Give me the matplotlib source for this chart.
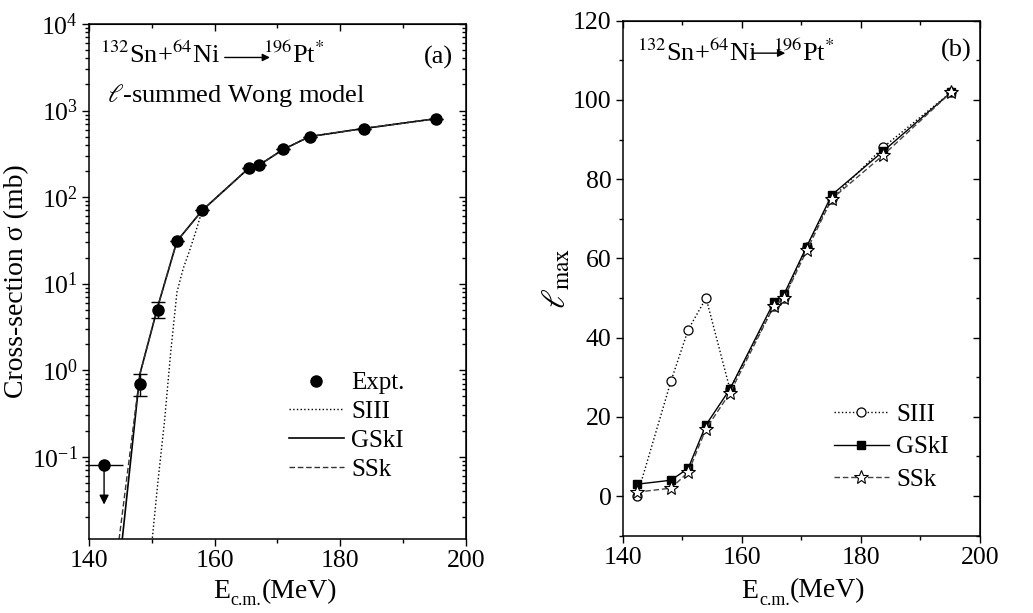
import numpy as np
import matplotlib
matplotlib.use('Agg')
import matplotlib.pyplot as plt
from matplotlib.lines import Line2D
from matplotlib.ticker import MultipleLocator, LogLocator, NullFormatter

plt.rcParams['font.family'] = ['Liberation Serif', 'DejaVu Serif']
plt.rcParams['mathtext.fontset'] = 'stix'

# energies (MeV)
E = [142.4, 148.1, 151.0, 154.0, 158.0, 165.4, 167.1, 170.9, 175.1, 183.7, 195.2]

# (a) cross-sections (mb)
E_expt = [148.1, 151.0, 154.0, 158.0, 165.4, 167.1, 170.9, 175.1, 183.7, 195.2]
sig_expt = [0.70, 5.0, 31, 70, 215, 235, 355, 500, 620, 805]
err_lo = [0.20, 1.0, 0, 0, 0, 0, 0, 0, 0, 0]
err_hi = [0.20, 1.2, 0, 0, 0, 0, 0, 0, 0, 0]
E_lim, sig_lim, sig_lim_arrow = 142.4, 0.08, 0.028

sig_gski = [1.2e-4, 0.9, 5.6, 31, 70, 215, 235, 355, 500, 620, 805]
sig_ssk = [4.7e-4, 0.9, 5.6, 31, 70, 215, 235, 355, 500, 620, 805]
E_siii = [149, 150, 151, 152, 153, 154, 155, 156, 157, 158.0, 165.4, 167.1, 170.9, 175.1, 183.7, 195.2]
sig_siii = [0.002, 0.010, 0.054, 0.25, 1.6, 8, 15, 24, 40, 70, 215, 235, 355, 500, 620, 805]

# (b) l_max
l_siii = [0, 29, 42, 50, 27, 48, 50, 63, 75, 88, 102]
l_gski = [3, 4, 7, 18, 27, 49, 51, 63, 76, 87, 102]
l_ssk = [1, 2, 6, 17, 26, 48, 50, 62, 75, 86, 102]

fs = 19
fig = plt.figure(figsize=(10.33, 6.13), dpi=100)


def ecm_label(ax, x0, y0):
    # E_c.m.(MeV) built from pieces so "c.m." keeps tight spacing
    t_e = ax.text(x0, y0, 'E', transform=ax.transAxes, fontsize=20,
                  ha='left', va='baseline')
    t_s = ax.annotate('c.m.', xy=(1.0, 0.0), xycoords=t_e, xytext=(0.5, 2),
                      textcoords='offset points', fontsize=13, ha='left', va='center')
    ax.annotate('(MeV)', xy=(1.0, 0.0), xycoords=(t_s, t_e), fontsize=20,
                ha='left', va='bottom')


#---------------- panel (a)
ax1 = fig.add_axes([89/1033, 74/613, 377/1033, 515/613])
ax1.set_yscale('log')
l_s, = ax1.plot(E_siii, sig_siii, ls=':', color='k', lw=1.0)
l_g, = ax1.plot(E, sig_gski, ls='-', color='k', lw=1.2)
l_k, = ax1.plot(E, sig_ssk, ls='--', color='#333333', lw=1.0, dashes=(4, 2))
ax1.errorbar(E_expt, sig_expt, yerr=[err_lo, err_hi], fmt='o', color='k', ms=8,
             capsize=5, elinewidth=1, capthick=1)
ax1.errorbar([E_lim], [sig_lim], xerr=3.0, fmt='o', color='k', ms=8, elinewidth=1, capsize=0)
ax1.annotate('', xy=(E_lim, sig_lim_arrow), xytext=(E_lim, sig_lim),
             arrowprops=dict(arrowstyle='-|>', color='k', lw=1, mutation_scale=14,
                             shrinkA=0, shrinkB=0))
ax1.set_xlim(140, 200)
ax1.set_ylim(0.0112, 1e4)
ax1.xaxis.set_major_locator(MultipleLocator(20))
ax1.xaxis.set_minor_locator(MultipleLocator(10))
ax1.yaxis.set_major_locator(LogLocator(base=10, numticks=10))
ax1.yaxis.set_minor_locator(LogLocator(base=10, subs=np.arange(2, 10), numticks=20))
ax1.yaxis.set_minor_formatter(NullFormatter())
ecm_label(ax1, 0.329, -0.114)
ax1.set_ylabel('Cross-section σ (mb)', fontsize=20, labelpad=2)

ax1.text(0.029, 0.924, r'$^{132}$Sn+$^{64}$Ni', transform=ax1.transAxes, fontsize=fs)
ax1.annotate('', xy=(0.48, 0.935), xytext=(0.36, 0.935), xycoords='axes fraction',
             arrowprops=dict(arrowstyle='-|>', color='k', lw=1, mutation_scale=11,
                             shrinkA=0, shrinkB=0))
ax1.text(0.462, 0.924, r'$^{196}$Pt$^{*}$', transform=ax1.transAxes, fontsize=fs)
ax1.text(0.965, 0.924, '(a)', transform=ax1.transAxes, fontsize=fs, ha='right')
ax1.text(0.048, 0.849, r'$\ell$-summed Wong model', transform=ax1.transAxes, fontsize=fs)

h_expt = Line2D([], [], ls='none', marker='o', color='k', ms=8)
ax1.legend([h_expt, l_s, l_g, l_k], ['Expt.', 'SIII', 'GSkI', 'SSk'], loc='center left',
           bbox_to_anchor=(0.53, 0.219), frameon=False, fontsize=18,
           handlelength=2.2, handletextpad=0.3, labelspacing=0.25,
           borderpad=0, borderaxespad=0)

#---------------- panel (b)
ax2 = fig.add_axes([622.7/1033, 77.3/613, 357.3/1033, 515/613])
ax2.plot(E, l_siii, ls=':', color='k', lw=1.0, marker='o', ms=6.5,
         mfc='white', mec='k', mew=0.9, label='SIII')
ax2.plot(E, l_gski, ls='-', color='k', lw=1.0, marker='s', ms=5.5,
         mfc='k', mec='k', label='GSkI')
ax2.plot(E, l_ssk, ls='--', color='#444444', lw=1.0, dashes=(4, 2), marker='*', ms=10,
         mfc='white', mec='k', mew=0.8, label='SSk')
ax2.set_xlim(140, 200)
ax2.set_ylim(-10, 120)
ax2.xaxis.set_major_locator(MultipleLocator(20))
ax2.xaxis.set_minor_locator(MultipleLocator(10))
ax2.yaxis.set_major_locator(MultipleLocator(20))
ax2.yaxis.set_minor_locator(MultipleLocator(10))
ecm_label(ax2, 0.333, -0.120)
ax2.set_ylabel(r'$\ell_{\rm max}$', fontsize=24, labelpad=0)

ax2.text(0.039, 0.922, r'$^{132}$Sn+$^{64}$Ni', transform=ax2.transAxes, fontsize=fs)
ax2.annotate('', xy=(0.455, 0.937), xytext=(0.362, 0.937), xycoords='axes fraction',
             arrowprops=dict(arrowstyle='-|>', color='k', lw=1, mutation_scale=11,
                             shrinkA=0, shrinkB=0))
ax2.text(0.42, 0.922, r'$^{196}$Pt$^{*}$', transform=ax2.transAxes, fontsize=fs)
ax2.text(0.977, 0.931, '(b)', transform=ax2.transAxes, fontsize=fs, ha='right')

ax2.legend(loc='center left', bbox_to_anchor=(0.59, 0.172), frameon=False, fontsize=18,
           handlelength=2.2, handletextpad=0.3, labelspacing=0.4,
           borderpad=0, borderaxespad=0)

for ax in (ax1, ax2):
    ax.tick_params(which='both', direction='out', top=False, right=False,
                   labelsize=18.5, width=1)
    ax.tick_params(which='major', length=5, pad=3)
    ax.tick_params(which='minor', length=3)
    sec_x = ax.secondary_xaxis('top')
    sec_y = ax.secondary_yaxis('right')
    sec_x.xaxis.set_major_locator(MultipleLocator(20))
    sec_x.xaxis.set_minor_locator(MultipleLocator(10))
    sec_x.tick_params(which='both', direction='in', labeltop=False, width=1)
    sec_y.tick_params(which='both', direction='in', labelright=False, width=1)
    for s in (sec_x, sec_y):
        s.tick_params(which='major', length=5)
        s.tick_params(which='minor', length=3)
    for sp in ax.spines.values():
        sp.set_linewidth(1.1)

ax2.child_axes[1].yaxis.set_major_locator(MultipleLocator(20))
ax2.child_axes[1].yaxis.set_minor_locator(MultipleLocator(10))

fig.savefig('out.png', dpi=100)
